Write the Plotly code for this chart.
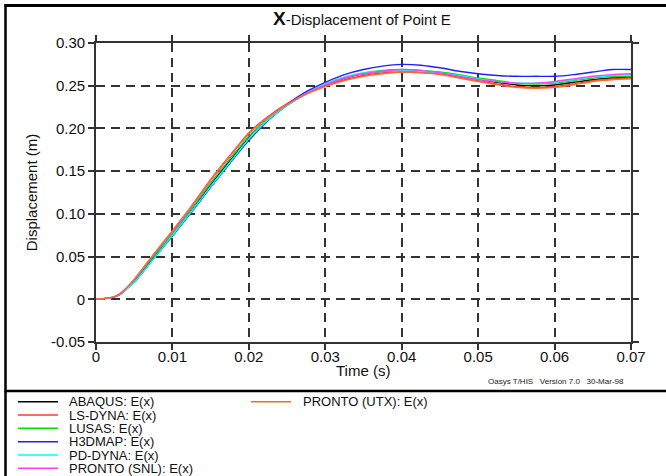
import plotly.graph_objects as go

# ---------------- data ----------------
time_s = [0, 0.002, 0.003, 0.005, 0.0075, 0.01, 0.0125, 0.015, 0.0175, 0.02,
          0.0225, 0.025, 0.0275, 0.03, 0.0325, 0.035, 0.0375, 0.04, 0.0425, 0.045,
          0.0475, 0.05, 0.0525, 0.055, 0.0575, 0.06, 0.0625, 0.065, 0.0675, 0.07]

abaqus = [0, 0.002, 0.005, 0.021, 0.049, 0.076, 0.104, 0.134, 0.162, 0.189,
          0.210, 0.227, 0.241, 0.251, 0.259, 0.264, 0.267, 0.268, 0.267, 0.265,
          0.262, 0.258, 0.254, 0.251, 0.250, 0.251, 0.254, 0.257, 0.259, 0.260]
ls_dyna = [0, 0.002, 0.005, 0.023, 0.052, 0.080, 0.109, 0.140, 0.168, 0.195,
           0.214, 0.229, 0.241, 0.250, 0.257, 0.262, 0.265, 0.266, 0.266, 0.264,
           0.260, 0.256, 0.252, 0.249, 0.248, 0.249, 0.252, 0.256, 0.258, 0.259]
lusas = [0, 0.002, 0.005, 0.022, 0.050, 0.077, 0.106, 0.136, 0.164, 0.191,
         0.211, 0.228, 0.242, 0.252, 0.260, 0.265, 0.268, 0.269, 0.268, 0.266,
         0.263, 0.259, 0.256, 0.253, 0.252, 0.253, 0.256, 0.259, 0.261, 0.261]
h3dmap = [0, 0.002, 0.005, 0.020, 0.047, 0.074, 0.102, 0.131, 0.159, 0.186,
          0.209, 0.228, 0.243, 0.254, 0.263, 0.269, 0.273, 0.275, 0.274, 0.271,
          0.267, 0.264, 0.262, 0.261, 0.261, 0.261, 0.263, 0.266, 0.269, 0.269]
pd_dyna = [0, 0.002, 0.005, 0.020, 0.047, 0.075, 0.103, 0.132, 0.160, 0.188,
           0.210, 0.227, 0.241, 0.252, 0.260, 0.265, 0.267, 0.268, 0.267, 0.265,
           0.262, 0.258, 0.255, 0.253, 0.253, 0.254, 0.257, 0.260, 0.262, 0.263]
pronto_snl = [0, 0.002, 0.006, 0.023, 0.052, 0.079, 0.108, 0.139, 0.167, 0.194,
              0.213, 0.228, 0.241, 0.251, 0.259, 0.264, 0.267, 0.269, 0.268, 0.265,
              0.261, 0.257, 0.255, 0.253, 0.253, 0.255, 0.258, 0.261, 0.263, 0.264]
pronto_utx = [0, 0.002, 0.005, 0.023, 0.052, 0.080, 0.109, 0.140, 0.168, 0.194,
              0.213, 0.228, 0.240, 0.249, 0.256, 0.261, 0.264, 0.266, 0.265, 0.263,
              0.259, 0.255, 0.251, 0.248, 0.247, 0.248, 0.251, 0.255, 0.257, 0.258]

series_names = ["ABAQUS: E(x)", "LS-DYNA: E(x)", "LUSAS: E(x)", "H3DMAP: E(x)",
                "PD-DYNA: E(x)", "PRONTO (SNL): E(x)", "PRONTO (UTX): E(x)"]
series_values = [abaqus, ls_dyna, lusas, h3dmap, pd_dyna, pronto_snl, pronto_utx]
series_colors = ["#000000", "#ff3a3a", "#00e000", "#2020ff", "#00ffff", "#ff40ff", "#ff6a20"]

x_ticks = [0, 0.01, 0.02, 0.03, 0.04, 0.05, 0.06, 0.07]
x_ticklabels = ["0", "0.01", "0.02", "0.03", "0.04", "0.05", "0.06", "0.07"]
y_ticks = [-0.05, 0, 0.05, 0.10, 0.15, 0.20, 0.25, 0.30]
y_ticklabels = ["-0.05", "0", "0.05", "0.10", "0.15", "0.20", "0.25", "0.30"]

# ---------------- layout geometry ----------------
W, H = 666, 476
L, R, T, B = 96, 631, 43, 342
FONT = "Liberation Sans, Arial, Helvetica, sans-serif"


def px(xp):
    return (xp - L) / (R - L)


def py(yp):
    return (B - yp) / (B - T)


fig = go.Figure()
for name, vals, col in zip(series_names, series_values, series_colors):
    fig.add_trace(go.Scatter(x=time_s, y=vals, mode="lines", name=name,
                             line=dict(color=col, width=1.4, shape="spline", smoothing=0.6),
                             showlegend=False))

axis_common = dict(showline=True, linecolor="#333333", linewidth=1.6,
                   ticks="outside", ticklen=6, tickwidth=1.5, tickcolor="#333333",
                   mirror="ticks", showgrid=True, gridcolor="#333333", gridwidth=1.7,
                   griddash="9px,6px", zeroline=False,
                   tickfont=dict(family=FONT, size=15, color="#111111"))

fig.update_xaxes(range=[0, 0.07], tickvals=x_ticks, ticktext=x_ticklabels,
                 ticklabelstandoff=-6, **axis_common)
fig.update_yaxes(range=[-0.05, 0.30], tickvals=y_ticks, ticktext=y_ticklabels,
                 title=dict(text="Displacement (m)", font=dict(family=FONT, size=15, color="#111111"),
                            standoff=10), **axis_common)

shapes = [
    # outer frame
    dict(type="line", xref="paper", yref="paper", x0=px(5.5), x1=px(5.5), y0=py(4), y1=py(H + 2),
         line=dict(color="#000000", width=2.5)),
    dict(type="line", xref="paper", yref="paper", x0=px(4.5), x1=px(W + 2), y0=py(5.5), y1=py(5.5),
         line=dict(color="#000000", width=3)),
    dict(type="line", xref="paper", yref="paper", x0=px(4.5), x1=px(W + 2), y0=py(391), y1=py(391),
         line=dict(color="#000000", width=2.5)),
]

annotations = [
    dict(text="<b><span style='font-size:19px'>X</span></b>-Displacement of Point E",
         xref="paper", yref="paper", x=px(362), y=py(18), showarrow=False,
         xanchor="center", yanchor="middle",
         font=dict(family=FONT, size=15, color="#111111")),
    dict(text="Time (s)", xref="paper", yref="paper", x=px(363), y=py(370), showarrow=False,
         xanchor="center", yanchor="middle",
         font=dict(family=FONT, size=15, color="#111111")),
    dict(text="Oasys T/HIS   Version 7.0   30-Mar-98", xref="paper", yref="paper",
         x=px(626), y=py(381), showarrow=False, xanchor="right", yanchor="middle",
         font=dict(family=FONT, size=8, color="#222222")),
]

# legend drawn manually (two columns)
row_y = [401.7, 415.0, 428.3, 441.7, 455.0, 468.3]
for i, (name, col) in enumerate(zip(series_names, series_colors)):
    if i < 6:
        lx0, lx1, tx, yy = 18, 58, 68, row_y[i]
    else:
        lx0, lx1, tx, yy = 251, 291, 302, row_y[0]
    shapes.append(dict(type="line", xref="paper", yref="paper", x0=px(lx0), x1=px(lx1),
                       y0=py(yy), y1=py(yy), line=dict(color=col, width=1.4)))
    annotations.append(dict(text=name, xref="paper", yref="paper", x=px(tx), y=py(yy),
                            showarrow=False, xanchor="left", yanchor="middle", borderpad=0,
                            font=dict(family=FONT, size=13, color="#111111")))

fig.update_layout(width=W, height=H, margin=dict(l=L, r=W - R, t=T, b=H - B),
                  paper_bgcolor="white", plot_bgcolor="white",
                  shapes=shapes, annotations=annotations, showlegend=False)

fig.write_html("out.html")
